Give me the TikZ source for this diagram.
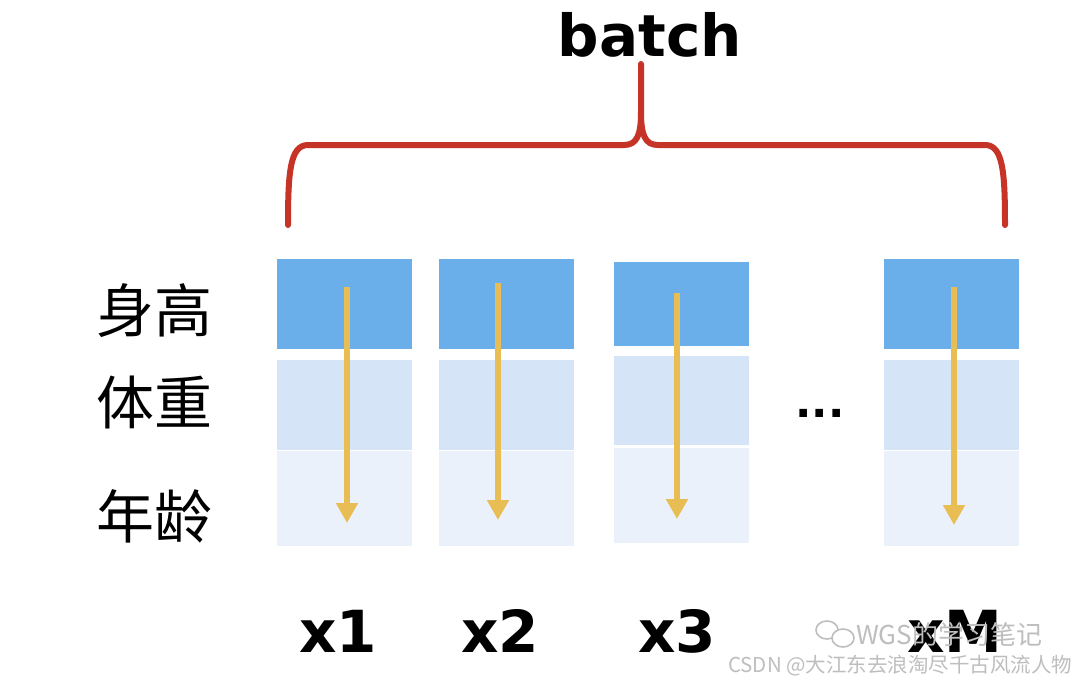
\documentclass[tikz,border=0pt]{standalone}
\usepackage{fontspec}
\setmainfont{DejaVu Sans}
\newfontfamily\cjk{Noto Sans CJK SC}
\newfontfamily\boldsans{DejaVu Sans}
\usetikzlibrary{arrows.meta}
\definecolor{topblue}{RGB}{106,174,234}
\definecolor{midblue}{RGB}{213,228,246}
\definecolor{lowblue}{RGB}{234,241,251}
\definecolor{gold}{RGB}{232,190,84}
\definecolor{bracered}{RGB}{198,52,40}
\definecolor{wm}{RGB}{190,190,190}
\tikzset{
  cell/.style={draw=none,inner sep=0pt,minimum width=135pt},
  c1/.style={cell,fill=topblue},
  c2/.style={cell,fill=midblue},
  c3/.style={cell,fill=lowblue},
  flow/.style={draw=gold,line width=6pt,-{Triangle[width=21pt,length=20pt]}},
  brace/.style={draw=bracered,line width=6pt,line cap=round,line join=round},
  big/.style={font=\boldsans\bfseries\fontsize{58}{60}\selectfont,inner sep=0pt},
  feat/.style={font=\cjk\fontsize{58}{60}\selectfont,inner sep=0pt},
  wmark/.style={font=\cjk\fontsize{26}{28}\selectfont,text=wm,inner sep=0pt}
}
\begin{document}
\begin{tikzpicture}[x=1pt,y=-1pt]
\useasboundingbox (0,0) rectangle (1080,683);
\fill[white] (0,0) rectangle (1080,683);
% title
\node[big] (batch) at (650,35) {batch};
% brace
\draw[brace] (288,225) .. controls (288,172) and (290,145) .. (308,145)
  -- (624,145) .. controls (637,145) and (641,135) .. (641,112) -- (641,64);
\draw[brace] (641,112) .. controls (641,135) and (645,145) .. (658,145)
  -- (985,145) .. controls (1003,145) and (1005,172) .. (1005,225);
% feature labels
\node[feat] (h) at (154,311) {身高};
\node[feat] (w) at (154,402) {体重};
\node[feat] (a) at (154,516) {年龄};
% column 1
\node[c1,minimum height=90pt] (a1) at (344.5,304) {};
\node[c2,minimum height=90pt] (b1) at (344.5,405) {};
\node[c3,minimum height=95pt] (d1) at (344.5,498.5) {};
% column 2
\node[c1,minimum height=90pt] (a2) at (506.5,304) {};
\node[c2,minimum height=90pt] (b2) at (506.5,405) {};
\node[c3,minimum height=95pt] (d2) at (506.5,498.5) {};
% column 3
\node[c1,minimum height=84pt] (a3) at (681.5,304) {};
\node[c2,minimum height=89pt] (b3) at (681.5,400.5) {};
\node[c3,minimum height=95pt] (d3) at (681.5,495.5) {};
% column M
\node[c1,minimum height=90pt] (a4) at (951.5,304) {};
\node[c2,minimum height=90pt] (b4) at (951.5,405) {};
\node[c3,minimum height=95pt] (d4) at (951.5,498.5) {};
% arrows
\coordinate (s1) at (347,287); \coordinate (e1) at (347,523);
\coordinate (s2) at (498,283); \coordinate (e2) at (498,520);
\coordinate (s3) at (677,293); \coordinate (e3) at (677,519);
\coordinate (s4) at (954,287); \coordinate (e4) at (954,525);
\draw[flow] (s1) -- (e1);
\draw[flow] (s2) -- (e2);
\draw[flow] (s3) -- (e3);
\draw[flow] (s4) -- (e4);
% dots
\node[font=\boldsans\bfseries\fontsize{43}{43}\selectfont,inner sep=0pt] (dots) at (820,413) {...};
% sample labels
\node[big] (x1) at (338,631) {x1};
\node[big] (x2) at (500,631) {x2};
\node[big] (x3) at (677,631) {x3};
\node[big] (xM) at (955,631) {xM};
% watermark
\draw[wm,line width=1.6pt] (827,630) ellipse (11pt and 9pt);
\draw[wm,line width=1.6pt,fill=white] (843,638) ellipse (11pt and 9pt);
\node[wmark,anchor=west] (wg) at (856,634) {WGS的学习笔记};
\node[font=\cjk\fontsize{20.5}{22}\selectfont,text=wm,inner sep=0pt,anchor=west] (cs) at (728,666) {CSDN @大江东去浪淘尽千古风流人物};
\end{tikzpicture}
\end{document}
